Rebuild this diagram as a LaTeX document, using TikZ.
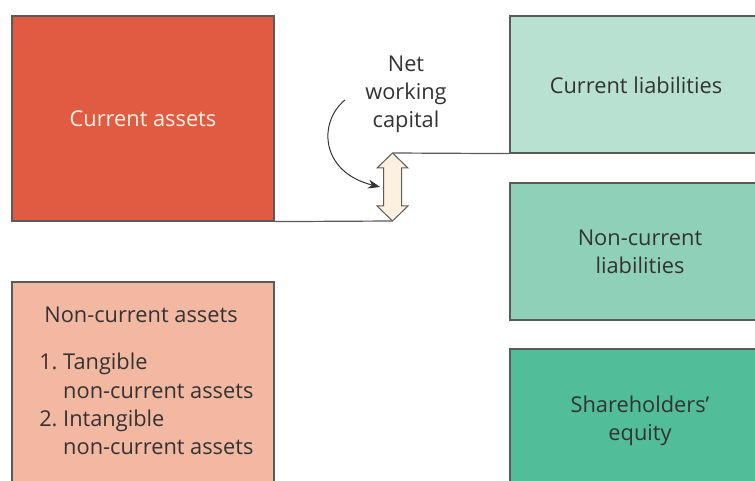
\documentclass[tikz,border=0pt]{standalone}
\usepackage{fontspec}
\setmainfont{Open Sans}
\usetikzlibrary{arrows.meta}
\definecolor{caFill}{HTML}{E05B41}
\definecolor{ncaFill}{HTML}{F3B8A1}
\definecolor{clFill}{HTML}{B9E1D1}
\definecolor{nclFill}{HTML}{8FD1B8}
\definecolor{eqFill}{HTML}{52BD99}
\definecolor{edge}{HTML}{5A5A5A}
\definecolor{txt}{HTML}{333333}
\definecolor{cream}{HTML}{FBF1DE}
\newcommand{\labelfont}{\fontsize{21.8}{28}\selectfont}
\tikzset{
  block/.style={draw=edge, line width=1.2pt, inner sep=0pt},
  label text/.style={font=\labelfont, text=txt, align=center, inner sep=0pt},
  rule/.style={draw=edge, line width=1.2pt},
}
\begin{document}
\begin{tikzpicture}[x=1pt, y=-1pt]
\useasboundingbox (0,0) rectangle (755,481);
\clip (0,0) rectangle (755,481);
\fill[white] (0,0) rectangle (755,481);

% left column: assets
\node[block, fill=caFill, minimum width=262pt, minimum height=205pt]
  (ca) at (143,118.5) {};
\node[label text, text=white!90!orange] (catext) at (143,119) {Current assets};
\node[block, fill=ncaFill, minimum width=262pt, minimum height=230pt]
  (nca) at (143,397) {};
\node[label text] (ncatitle) at (141,315) {Non-current assets};
\node[label text, align=left, anchor=north west, font=\fontsize{21.8}{28.3}\selectfont]
  (ncalist) at (42,353)
  {\makebox[21pt][r]{1.\ }Tangible\\
   \makebox[21pt][r]{}non-current assets\\
   \makebox[21pt][r]{2.\ }Intangible\\
   \makebox[21pt][r]{}non-current assets};

% right column: liabilities and equity
\node[block, fill=clFill, minimum width=260pt, minimum height=137pt]
  (cl) at (640,84.5) {};
\node[label text] (cltext) at (636,85) {Current liabilities};
\node[block, fill=nclFill, minimum width=260pt, minimum height=137pt]
  (ncl) at (640,251.5) {};
\node[label text] (ncltext) at (640,252) {Non-current\\liabilities};
\node[block, fill=eqFill, minimum width=260pt, minimum height=160pt]
  (eq) at (640,429) {};
\node[label text] (eqtext) at (640,421) {Shareholders'\\equity};

% net working capital gap
\coordinate (top) at (392.5,153);
\coordinate (bot) at (392.5,221);
\draw[rule] (ca.south east) -- (bot);
\draw[rule] (top) -- (cl.south west);
\draw[draw=edge, line width=1pt, fill=cream, line join=miter]
  (top) -- (408,168) -- (401.5,168) -- (401.5,206) -- (408,206) -- (bot)
  -- (377,206) -- (383.5,206) -- (383.5,168) -- (377,168) -- cycle;
\node[label text] (nwc) at (406,94) {Net\\working\\capital};
\coordinate (cstart) at (345,100);
\coordinate (cend) at (380,187);
\draw[draw=black!80, line width=1pt, -{Stealth[length=12pt,width=9pt]}]
  (cstart) .. controls (318,122) and (320,172) .. (cend);
\end{tikzpicture}
\end{document}
